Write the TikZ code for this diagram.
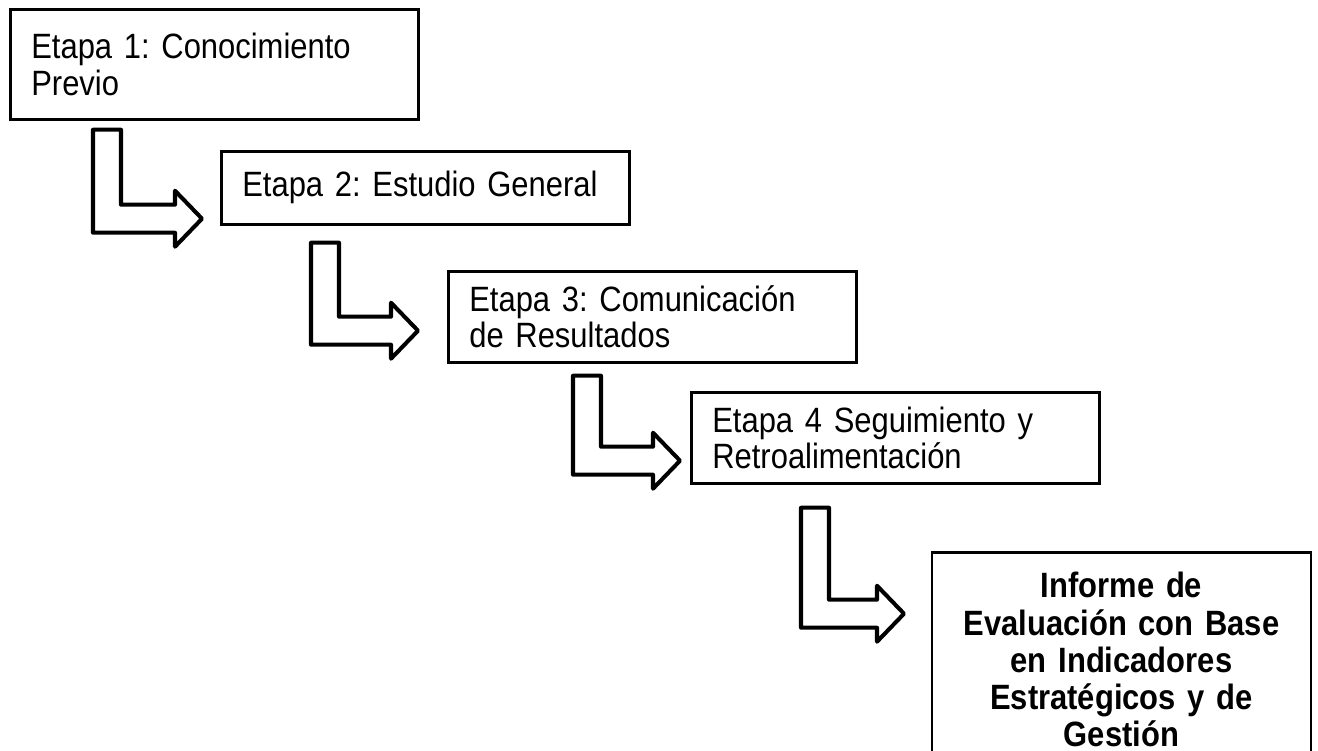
\documentclass[tikz,border=0pt]{standalone}
\usepackage{fontspec}
\setmainfont{Liberation Sans}[FakeStretch=0.88]
\usetikzlibrary{calc}
\frenchspacing
\tikzset{
	stepbox/.style={draw,line width=0.75pt,anchor=north west,text width=3.66cm,inner xsep=0.21cm,inner ysep=0pt,align=left,font=\fontsize{10}{10.3}\selectfont},
	reportbox/.style={draw,line width=0.75pt,anchor=north,text width=3.37cm,inner xsep=0.21cm,inner ysep=0.2cm,align=center,font=\fontsize{10}{10.6}\selectfont\bfseries},
	blockarrow/.style={line width=1.15pt,line join=round},
	pics/larrow/.style 2 args={code={
		\draw[blockarrow] (0,0) -- (28,0) -- (28,{#1-28}) -- ({#2-27},{#1-28}) -- ({#2-27},{#1-42})
			-- (#2,{#1-14}) -- ({#2-27},{#1+14}) -- ({#2-27},#1) -- (0,#1) -- cycle;
	}}
}
\begin{document}
\begin{tikzpicture}[x=0.01cm,y=-0.01cm]
			\useasboundingbox (0,0) rectangle (1318,750);
			\node[stepbox,minimum height=1.10cm] (etapa1) at (9,8) {Etapa 1: Conocimiento\\Previo};
			\node[stepbox,minimum height=0.73cm] (etapa2) at (220,150) {Etapa 2: Estudio General};
			\node[stepbox,minimum height=0.91cm] (etapa3) at (447,270) {Etapa 3: Comunicación\\de Resultados};
			\node[stepbox,minimum height=0.91cm] (etapa4) at (690,391) {Etapa 4 Seguimiento y\\Retroalimentación};
			\node[reportbox] (informe) at (1121.5,551) {Informe de\\Evaluación con Base\\en Indicadores\\Estratégicos y de\\Gestión};
				\pic at ($(etapa1.south west)+(84,9)$) {larrow={103}{109}};
				\pic at ($(etapa2.south west)+(91,17)$) {larrow={102}{107}};
				\pic at ($(etapa3.south west)+(126,12)$) {larrow={99}{107}};
				\pic at ($(etapa4.south west)+(111,23)$) {larrow={120}{103}};
		\end{tikzpicture}
\end{document}
